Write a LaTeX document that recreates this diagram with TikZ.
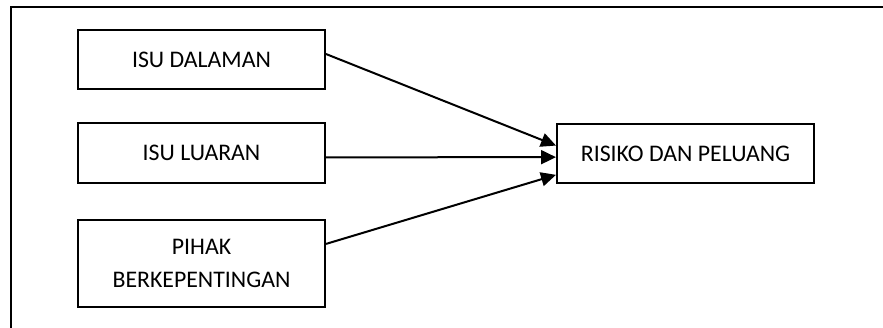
\documentclass[tikz,border=0pt]{standalone}
\usepackage{fontspec}
\setmainfont{Carlito}
\usetikzlibrary{arrows.meta,calc}
\begin{document}
\begin{tikzpicture}[x=1pt,y=-1pt,
  box/.style={draw,line width=2pt,rectangle,inner sep=0pt,align=center,
    font=\fontsize{23.8}{33}\selectfont},
  conn/.style={line width=2pt,-{Triangle[length=15pt,width=14pt]}},
  frame/.style={line width=2pt}]
\useasboundingbox (0,0) rectangle (883,328);
\node[box,minimum width=247pt,minimum height=59pt] (dal) at (201.5,59.5) {ISU DALAMAN};
\node[box,minimum width=247pt,minimum height=60pt] (lua) at (201.5,153) {ISU LUARAN};
\node[box,minimum width=247pt,minimum height=87pt] (pih) at (201.5,263.5) {PIHAK\\BERKEPENTINGAN};
\node[box,minimum width=257pt,minimum height=59pt] (ris) at (685.5,153.5) {RISIKO DAN PELUANG};
\coordinate (fbl) at (11,330);
\coordinate (ftl) at (11,7);
\coordinate (ftr) at (885,7);
\draw[frame] (fbl) -- (ftl) -- (ftr);
\draw[conn] ($(dal.north east)!0.41!(dal.south east)$) -- ($(ris.north west)!0.37!(ris.south west)$);
\draw[conn] ($(lua.north east)!0.57!(lua.south east)$) -- ($(ris.north west)!0.56!(ris.south west)$);
\draw[conn] ($(pih.north east)!0.28!(pih.south east)$) -- ($(ris.north west)!0.85!(ris.south west)$);
\end{tikzpicture}
\end{document}
